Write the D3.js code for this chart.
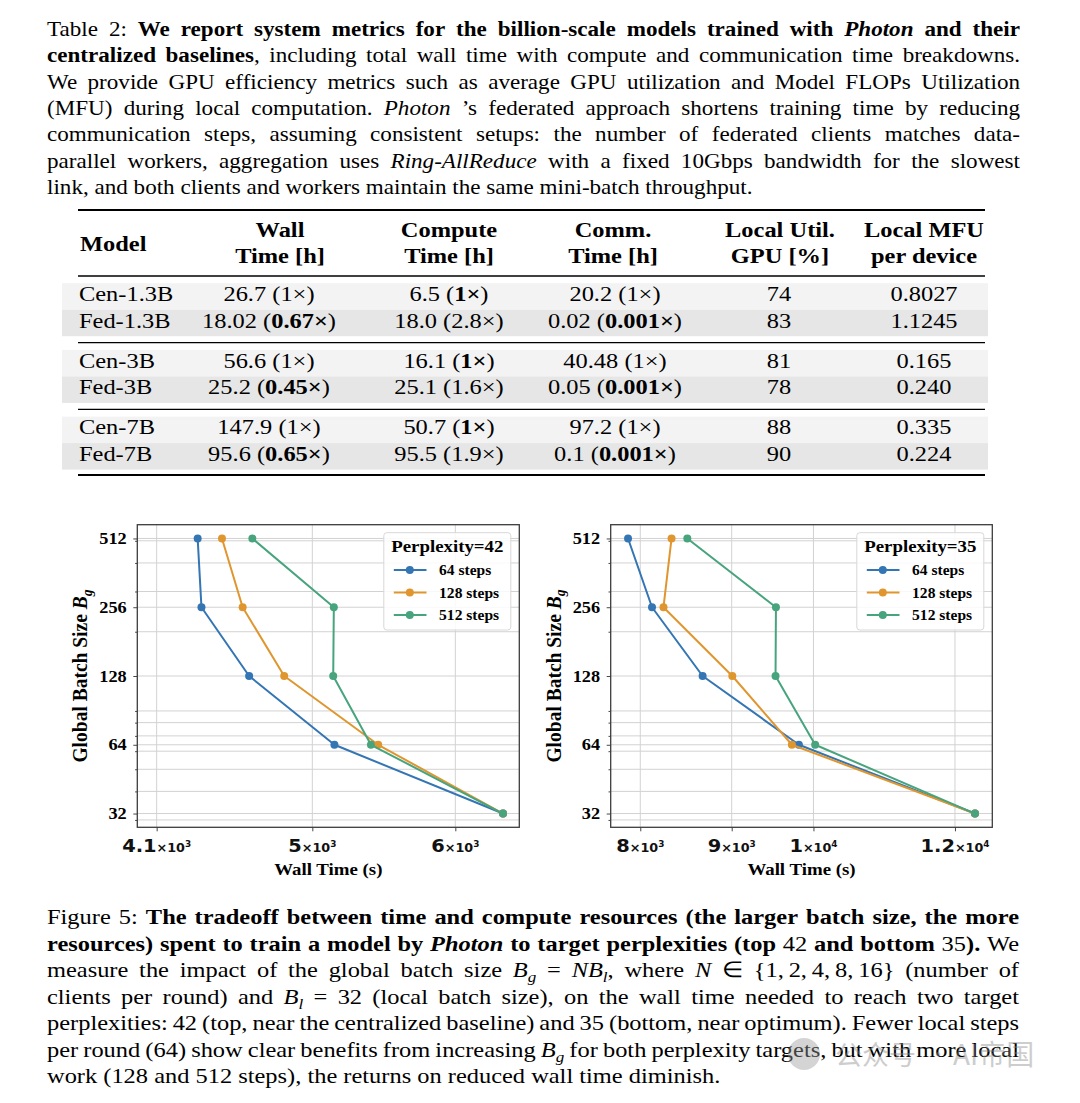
<!DOCTYPE html>
<html><head><meta charset="utf-8">
<script src="https://cdn.jsdelivr.net/npm/d3@7"></script>
<style>body{margin:0;background:#fff}svg{display:block}</style>
</head><body>
<svg id="c" width="1080" height="1103"></svg>
<script>
// ---------------- DATA ----------------
const batchSizes = [512, 256, 128, 64, 32];
const seriesNames = ["64 steps", "128 steps", "512 steps"];
const ppl42_64  = [4320, 4341, 4613, 5143, 6376];
const ppl42_128 = [4456, 4575, 4824, 5438, 6376];
const ppl42_512 = [4632, 5139, 5135, 5388, 6376];
const ppl35_64  = [7875, 8122, 8669, 9814, 12313];
const ppl35_128 = [8329, 8243, 9007, 9726, 12313];
const ppl35_512 = [8500, 9528, 9523, 10022, 12313];
const xTicks42 = [4100, 5000, 6000];
const xTicks35 = [8000, 9000, 10000, 12000];
const yTicks = [32, 64, 128, 256, 512];
const yMinor = [30, 40, 50, 60, 70, 80, 90, 200, 300, 400, 500];

const models   = ["Cen-1.3B", "Fed-1.3B", "Cen-3B", "Fed-3B", "Cen-7B", "Fed-7B"];
const wallH    = ["26.7", "18.02", "56.6", "25.2", "147.9", "95.6"];
const wallX    = ["1", "0.67", "1", "0.45", "1", "0.65"];
const wallB    = [false, true, false, true, false, true];
const compH    = ["6.5", "18.0", "16.1", "25.1", "50.7", "95.5"];
const compX    = ["1", "2.8", "1", "1.6", "1", "1.9"];
const compB    = [true, false, true, false, true, false];
const commH    = ["20.2", "0.02", "40.48", "0.05", "97.2", "0.1"];
const commX    = ["1", "0.001", "1", "0.001", "1", "0.001"];
const commB    = [false, true, false, true, false, true];
const gpuUtil  = ["74", "83", "81", "78", "88", "90"];
const mfu      = ["0.8027", "1.1245", "0.165", "0.240", "0.335", "0.224"];

// ---------------- SETUP ----------------
const S = 1.11; // horizontal glyph stretch of the reference
const SERIF = "'Liberation Serif','Times New Roman',Times,serif";
const SANS = "'DejaVu Sans',sans-serif";
const colors = ["#3475b4", "#e0962e", "#47a47d"];
const svg = d3.select("#c");

function addPieces(t, pieces, size) {
  let shift = 0;
  pieces.forEach(p => {
    const st = p.st || "";
    const sub = st.includes("_"), sup = st.includes("^");
    const ts = t.append("tspan").text(p.t);
    ts.attr("font-size", p.size || ((sub || sup) ? size * 0.7 : size));
    if (st.includes("b")) ts.attr("font-weight", "bold");
    if (st.includes("i")) ts.attr("font-style", "italic");
    const target = sub ? size * 0.22 : (sup ? -size * 0.4 : 0);
    if (target !== shift) { ts.attr("dy", target - shift); shift = target; }
  });
}

function paraLine(parent, x0, base, width, runs, size, justify, sx) {
  const g = parent.append("g").attr("transform", `translate(${x0},${base}) scale(${sx},1)`);
  const words = []; let cur = [];
  runs.forEach(([t, st]) => {
    t.split(" ").forEach((pt, k) => {
      if (k > 0) { if (cur.length) words.push(cur); cur = []; }
      if (pt.length) cur.push({t: pt, st});
    });
  });
  if (cur.length) words.push(cur);
  const items = words.map(w => {
    const t = g.append("text").attr("font-family", SERIF).attr("font-size", size).attr("fill", "#000");
    addPieces(t, w, size);
    return {t, w: t.node().getComputedTextLength()};
  });
  const total = d3.sum(items, d => d.w);
  const gap = justify ? (width / sx - total) / (items.length - 1) : size * 0.25;
  let x = 0;
  items.forEach(it => { it.t.attr("x", x); x += it.w + gap; });
}

function label(parent, x, y, pieces, size, anchor, fam, extra) {
  const g = parent.append("g").attr("transform", `translate(${x},${y}) scale(${S},1)` + (extra || ""));
  const t = g.append("text").attr("font-family", fam || SERIF).attr("font-size", size)
    .attr("text-anchor", anchor || "start").attr("fill", "#000");
  addPieces(t, pieces, size);
  return t;
}

// ---------------- TABLE CAPTION ----------------
const capTop = [
  [["Table 2: ", ""], ["We report system metrics for the billion-scale models trained with ", "b"], ["Photon", "bi"], [" and their", "b"]],
  [["centralized baselines", "b"], [", including total wall time with compute and communication time breakdowns.", ""]],
  [["We provide GPU efficiency metrics such as average GPU utilization and Model FLOPs Utilization", ""]],
  [["(MFU) during local computation. ", ""], ["Photon", "i"], [" \u2019s federated approach shortens training time by reducing", ""]],
  [["communication steps, assuming consistent setups: the number of federated clients matches data-", ""]],
  [["parallel workers, aggregation uses ", ""], ["Ring-AllReduce", "i"], [" with a fixed 10Gbps bandwidth for the slowest", ""]],
  [["link, and both clients and workers maintain the same mini-batch throughput.", ""]]
];
capTop.forEach((r, i) => paraLine(svg, 47, 35.8 + i * 26.35, 973, r, 22, i < capTop.length - 1, 1.05));

// ---------------- TABLE ----------------
const tbl = svg.append("g");
const rowBase = [301, 327.5, 367.7, 394.2, 434.4, 460.9];
rowBase.forEach((b, i) => {
  tbl.append("rect").attr("x", 62).attr("width", 926).attr("y", b - 17.8).attr("height", 26.5)
    .attr("fill", i % 2 ? "#e6e6e6" : "#f3f3f3");
});
[[210, 1.8], [276, 1.3], [342.7, 1.3], [409.3, 1.3], [475, 1.8]].forEach(([y, w]) =>
  tbl.append("line").attr("x1", 78).attr("x2", 985).attr("y1", y).attr("y2", y).attr("stroke", "#000").attr("stroke-width", w));

label(tbl, 80, 250.5, [{t: "Model", st: "b"}], 22, "start");
const headers = [[280, "Wall", "Time [h]"], [449, "Compute", "Time [h]"], [613, "Comm.", "Time [h]"], [780, "Local Util.", "GPU [%]"], [924, "Local MFU", "per device"]];
headers.forEach(([cx, a, b]) => {
  label(tbl, cx, 236.5, [{t: a, st: "b"}], 22, "middle");
  label(tbl, cx, 263.3, [{t: b, st: "b"}], 22, "middle");
});
models.forEach((m, i) => {
  const b = rowBase[i];
  label(tbl, 79, b, [{t: m}], 22, "start");
  label(tbl, 269, b, [{t: wallH[i] + " ("}, {t: wallX[i] + "\u00d7", st: wallB[i] ? "b" : ""}, {t: ")"}], 22, "middle");
  label(tbl, 449, b, [{t: compH[i] + " ("}, {t: compX[i] + "\u00d7", st: compB[i] ? "b" : ""}, {t: ")"}], 22, "middle");
  label(tbl, 615, b, [{t: commH[i] + " ("}, {t: commX[i] + "\u00d7", st: commB[i] ? "b" : ""}, {t: ")"}], 22, "middle");
  label(tbl, 779, b, [{t: gpuUtil[i]}], 22, "middle");
  label(tbl, 924, b, [{t: mfu[i]}], 22, "middle");
});

// ---------------- CHARTS ----------------
const T = 524.7, B = 827.3;
function drawChart(o) {
  const x = d3.scaleLog().domain(o.xDomain).range([o.L, o.R]);
  const y = d3.scaleLog().base(2).domain([32 * Math.pow(2, -0.2), 512 * Math.pow(2, 0.2)]).range([B, T]);
  const g = svg.append("g");
  g.append("g").selectAll("line").data(yTicks.concat(yMinor)).join("line")
    .attr("x1", o.L).attr("x2", o.R).attr("y1", d => y(d)).attr("y2", d => y(d))
    .attr("stroke", "#d2d2d2").attr("stroke-width", 1);
  g.append("g").selectAll("line").data(o.xTicks).join("line")
    .attr("x1", d => x(d)).attr("x2", d => x(d)).attr("y1", T).attr("y2", B)
    .attr("stroke", "#d2d2d2").attr("stroke-width", 1);
  const ax = g.append("g").attr("transform", `translate(${o.L},0)`)
    .call(d3.axisLeft(y).tickValues(yTicks).tickSize(4).tickFormat(""));
  const axm = g.append("g").attr("transform", `translate(${o.L},0)`)
    .call(d3.axisLeft(y).tickValues(yMinor).tickSize(2.2).tickFormat(""));
  const bx = g.append("g").attr("transform", `translate(0,${B})`)
    .call(d3.axisBottom(x).tickValues(o.xTicks).tickSize(4).tickFormat(""));
  [ax, axm, bx].forEach(a => { a.select(".domain").remove(); a.selectAll("line").attr("stroke", "#333").attr("stroke-width", 0.9); });
  g.append("rect").attr("x", o.L).attr("y", T).attr("width", o.R - o.L).attr("height", B - T)
    .attr("fill", "none").attr("stroke", "#3c3c3c").attr("stroke-width", 1.3);

  // y tick labels
  yTicks.forEach(v => label(g, o.L - 10.6, y(v) + 5.6, [{t: String(v), st: "b"}], 16.5, "end"));
  // x tick labels
  o.xTicks.forEach(v => {
    const e = Math.floor(Math.log10(v) + 1e-9);
    const m = +(v / Math.pow(10, e)).toFixed(2);
    const gg = g.append("g").attr("transform", `translate(${x(v)},851.5) scale(${S},1)`);
    const t = gg.append("text").attr("text-anchor", "middle").attr("font-family", SANS)
      .attr("font-weight", "bold").attr("fill", "#111");
    t.append("tspan").attr("font-size", 17.5).text(String(m));
    t.append("tspan").attr("font-size", 11.5).text("\u00d710");
    t.append("tspan").attr("font-size", 8).attr("dy", -4.5).text(String(e));
  });
  // axis labels
  label(g, (o.L + o.R) / 2, 875, [{t: "Wall Time (s)", st: "b"}], 17, "middle");
  label(g, o.L - 50, (T + B) / 2, [{t: "Global Batch Size ", st: "b"}, {t: "B", st: "bi"}, {t: "g", st: "bi_"}], 19.5, "middle", SERIF, " rotate(-90)");

  // series
  const line = d3.line().x(d => x(d[0])).y(d => y(d[1]));
  o.series.forEach((vals, k) => {
    const pts = vals.map((v, i) => [v, batchSizes[i]]);
    g.append("path").attr("d", line(pts)).attr("fill", "none").attr("stroke", colors[k])
      .attr("stroke-width", 2).attr("stroke-linejoin", "round");
    g.append("g").selectAll("circle").data(pts).join("circle")
      .attr("cx", d => x(d[0])).attr("cy", d => y(d[1])).attr("r", 4).attr("fill", colors[k]);
  });

  // legend
  const lw = 127, lx = o.R - 8.5 - lw, ly = 532.7;
  g.append("rect").attr("x", lx).attr("y", ly).attr("width", lw).attr("height", 97.3).attr("rx", 3)
    .attr("fill", "#fff").attr("fill-opacity", 0.85).attr("stroke", "#d8d8d8").attr("stroke-width", 1);
  label(g, lx + lw / 2, 552.3, [{t: o.title, st: "b"}], 17, "middle");
  [570, 592.5, 615].forEach((yy, k) => {
    g.append("line").attr("x1", lx + 10).attr("x2", lx + 42.7).attr("y1", yy).attr("y2", yy)
      .attr("stroke", colors[k]).attr("stroke-width", 2);
    g.append("circle").attr("cx", lx + 26).attr("cy", yy).attr("r", 4).attr("fill", colors[k]);
    label(g, lx + 55.3, yy + 5, [{t: seriesNames[k], st: "b"}], 14, "start");
  });
}

drawChart({L: 137.3, R: 519.3, xDomain: [4000, 6510], xTicks: xTicks42,
  series: [ppl42_64, ppl42_128, ppl42_512], title: "Perplexity=42"});
drawChart({L: 610.7, R: 992.3, xDomain: [7701, 12591], xTicks: xTicks35,
  series: [ppl35_64, ppl35_128, ppl35_512], title: "Perplexity=35"});

// ---------------- FIGURE CAPTION ----------------
const capBot = [
  [["Figure 5: ", ""], ["The tradeoff between time and compute resources (the larger batch size, the more", "b"]],
  [["resources) spent to train a model by ", "b"], ["Photon", "bi"], [" to target perplexities (top ", "b"], ["42", ""], [" and bottom ", "b"], ["35", ""], [").", "b"], [" We", ""]],
  [["measure the impact of the global batch size ", ""], ["B", "i"], ["g", "i_"], [" = ", ""], ["NB", "i"], ["l", "i_"], [", where ", ""], ["N", "i"], [" \u2208 {1,\u20092,\u20094,\u20098,\u200916} (number of", ""]],
  [["clients per round) and ", ""], ["B", "i"], ["l", "i_"], [" = 32 (local batch size), on the wall time needed to reach two target", ""]],
  [["perplexities: 42 (top, near the centralized baseline) and 35 (bottom, near optimum). Fewer local steps", ""]],
  [["per round (64) show clear benefits from increasing ", ""], ["B", "i"], ["g", "i_"], [" for both perplexity targets, but with more local", ""]],
  [["work (128 and 512 steps), the returns on reduced wall time diminish.", ""]]
];
capBot.forEach((r, i) => paraLine(svg, 47, 924.3 + i * 26.5, 972, r, 22, i < capBot.length - 1, S));

// watermark (sits over the caption, as in the reference)
const wm = svg.append("g").attr("opacity", 0.42);
wm.append("circle").attr("cx", 804).attr("cy", 1054).attr("r", 16).attr("fill", "#9a9a9a");
wm.append("text").attr("x", 835).attr("y", 1065).attr("font-family", "'Noto Sans CJK SC',sans-serif")
  .attr("font-size", 27).attr("fill", "#8a8a8a").text("\u516c\u4f17\u53f7");
wm.append("text").attr("x", 928).attr("y", 1062).attr("font-family", "'Noto Sans CJK SC',sans-serif")
  .attr("font-size", 20).attr("fill", "#8a8a8a").text("\u00b7");
wm.append("text").attr("x", 953).attr("y", 1065).attr("font-family", "'Noto Sans CJK SC',sans-serif")
  .attr("font-size", 28).attr("fill", "#8a8a8a").text("AI\u5e1d\u56fd");
</script>
</body></html>
